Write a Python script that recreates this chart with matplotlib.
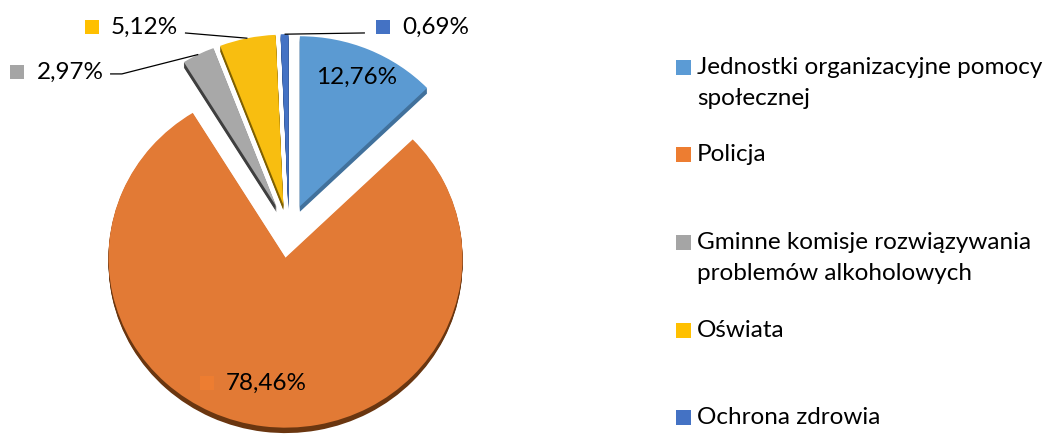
import numpy as np
import matplotlib
matplotlib.use('Agg')
import matplotlib.pyplot as plt
from matplotlib.patches import Rectangle
from matplotlib.offsetbox import DrawingArea, TextArea, HPacker, AnnotationBbox

plt.rcParams['font.family'] = ['Lato', 'DejaVu Sans']

# data
categories = ['Jednostki organizacyjne pomocy\nspołecznej',
              'Policja',
              'Gminne komisje rozwiązywania\nproblemów alkoholowych',
              'Oświata',
              'Ochrona zdrowia']
shares = [12.76, 78.46, 2.97, 5.12, 0.69]
value_labels = ['12,76%', '78,46%', '2,97%', '5,12%', '0,69%']

colors = ['#5B9BD5', '#ED7D31', '#A5A5A5', '#FFC000', '#4472C4']
face_colors = ['#5B9AD2', '#E27A35', '#A8A8A8', '#F8BE10', '#4472C4']
side_colors = ['#41719C', '#6A3610', '#3F3F3F', '#7F6000', '#2F528F']

# layout (data units of the pie axes, radius = 1)
label_pos = [(0.384, 0.906), (-0.201, -0.894), (-1.311, 0.935), (-0.890, 1.20), (0.757, 1.20)]
show_key = [False, True, True, True, True]
leader_pts = [None, None,
              [(-0.944, 0.924), (-1.011, 0.924)],
              [(-0.588, 1.165)],
              [(0.429, 1.165)]]

W, H = 1047, 436
fig = plt.figure(figsize=(W / 100, H / 100), dpi=100)
ax = fig.add_axes([0, 0, 1, 1])

explode = [0.158] * len(shares)
depth = 0.032
# 3d side, a few shifted darker copies under the top faces
for k in np.linspace(depth, 0, 7)[:-1]:
    ax.pie(shares, explode=explode, colors=side_colors, startangle=90,
           counterclock=False, center=(0, -k), wedgeprops=dict(linewidth=0))
ax.pie(shares, explode=explode, colors=face_colors, startangle=90,
       counterclock=False, wedgeprops=dict(linewidth=0))

rx, ry = 177, 170
cx, cy = 289, 231
ax.set_aspect('auto')
ax.set_xlim(-cx / rx, (W - cx) / rx)
ax.set_ylim(-(H - cy) / ry, cy / ry)
ax.axis('off')

# bisector directions, angle measured clockwise from top
shares_arr = np.array(shares)
mid = (np.cumsum(shares_arr) - shares_arr / 2) / shares_arr.sum() * 2 * np.pi
edge_r = 1 + explode[0]

fs = 17.5
for i, txt in enumerate(value_labels):
    parts = []
    if show_key[i]:
        da = DrawingArea(10, 10, 0, 0)
        da.add_artist(Rectangle((0, 0), 10, 10, fc=colors[i], ec='none'))
        parts.append(da)
    parts.append(TextArea(txt, textprops=dict(fontsize=fs, color='black')))
    box = HPacker(children=parts, align='center', pad=0, sep=9)
    ab = AnnotationBbox(box, label_pos[i], frameon=False, box_alignment=(0.5, 0.5))
    ax.add_artist(ab)
    if leader_pts[i] is not None:
        start = (edge_r * np.sin(mid[i]), edge_r * np.cos(mid[i]))
        pts = [start] + leader_pts[i]
        xs, ys = zip(*pts)
        ax.plot(xs, ys, color='black', lw=0.9, solid_capstyle='butt')

# legend on the right
leg_x = 676
leg_y = [67.5, 154.5, 242.5, 330, 417]
line_gap = 31
for i, name in enumerate(categories):
    y = leg_y[i]
    fig.patches.append(Rectangle((leg_x / W, 1 - (y + 7.5) / H), 15 / W, 15 / H,
                                 transform=fig.transFigure, fc=colors[i], ec='none'))
    for j, line in enumerate(name.split('\n')):
        fig.text(697 / W, 1 - (y + j * line_gap) / H, line, fontsize=fs,
                 va='center', ha='left', color='black')

fig.savefig('out.png', dpi=100)
